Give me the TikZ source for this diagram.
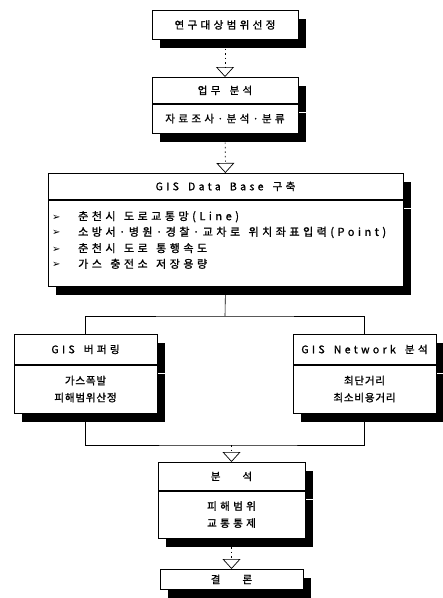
\documentclass[tikz,border=0pt]{standalone}
\usepackage{fontspec}
\setmainfont{Noto Sans CJK KR}[LetterSpace=32, FakeBold=1.2, WordSpace=1.6]
\newfontfamily\listfont{Noto Sans CJK KR}[LetterSpace=32, FakeBold=1.2, WordSpace=1.4]
\newfontfamily\symfont{DejaVu Sans}
\usetikzlibrary{arrows.meta,shadows,positioning}

\begin{document}
\begin{tikzpicture}[x=1pt,y=-1pt,
  hbox/.style={draw, fill=white, line width=0.7pt, inner sep=0pt, align=center,
    font=\fontsize{10.5}{17}\selectfont,
    general shadow={fill=black, shadow xshift=8pt, shadow yshift=-9pt}},
  narrow/.style={font=\fontsize{10.5}{17}\selectfont\addfontfeature{LetterSpace=8}},
  flow/.style={line width=0.6pt, dash pattern=on 1.5pt off 3pt,
    -{Triangle[open,width=18pt,length=10pt,line width=0.7pt]}},
  link/.style={line width=0.6pt}]
  \useasboundingbox (0,0) rectangle (443,598);

  % step 1
  \node[hbox, minimum width=146, minimum height=29, anchor=north] (b1) at (225,10) {연구대상범위선정};

  % step 2
  \node[hbox, minimum width=146, minimum height=26, anchor=north] (b2t) at (225,77) {업무 분석};
  \node[hbox, minimum width=146, minimum height=29, anchor=north] (b2b) at (b2t.south) {자료조사·분석·분류};

  % step 3: data base
  \node[hbox, minimum width=355, minimum height=26, anchor=north] (b3t) at (225.5,173) {GIS Data Base 구축};
  \node[hbox, minimum width=355, minimum height=86, anchor=north] (b3b) at (b3t.south) {};
  \foreach \txt [count=\k] in {{춘천시 도로교통망(Line)},
      {소방서·병원·경찰·교차로 위치좌표입력(Point)},
      {춘천시 도로 통행속도},
      {가스 충전소 저장용량}}
    \node[anchor=west, inner sep=0pt, font=\listfont\fontsize{11}{12}\selectfont]
      (item\k) at (52,201+15.7*\k)
      {\makebox[26pt][l]{\symfont\fontsize{10}{10}\selectfont ➢}\txt};

  % step 4: buffering / network
  \node[hbox, minimum width=143, minimum height=30, anchor=north] (b4t) at (85.5,334) {GIS 버퍼링};
  \node[hbox, narrow, minimum width=143, minimum height=48, anchor=north] (b4b) at (b4t.south) {가스폭발\\피해범위산정};
  \node[hbox, minimum width=143, minimum height=30, anchor=north] (b5t) at (364.5,334) {GIS Network 분석};
  \node[hbox, narrow, minimum width=143, minimum height=48, anchor=north] (b5b) at (b5t.south) {최단거리\\최소비용거리};

  % step 5
  \node[hbox, minimum width=147, minimum height=28, anchor=north] (b6t) at (231.5,462) {분\hspace{22pt}석};
  \node[hbox, minimum width=147, minimum height=47, anchor=north] (b6b) at (b6t.south) {피해범위\\교통통제};

  % step 6
  \node[hbox, minimum width=143, minimum height=20, anchor=north] (b7) at (231.5,569) {결\hspace{22pt}론};

  % connectors
  \coordinate (split) at (225,316);
  \coordinate (join) at (231.5,445);
  \draw[flow] (b1) -- (b2t);
  \draw[flow] (b2b) -- (b3t);
  \draw[link] (b3b.south) -- (split);
  \draw[link] (b4t.north) |- (split) -| (b5t.north);
  \draw[link] (b4b.south) |- (join) -| (b5b.south);
  \draw[flow] (join) -- (b6t);
  \draw[flow] (b6b) -- (b7);
\end{tikzpicture}
\end{document}
